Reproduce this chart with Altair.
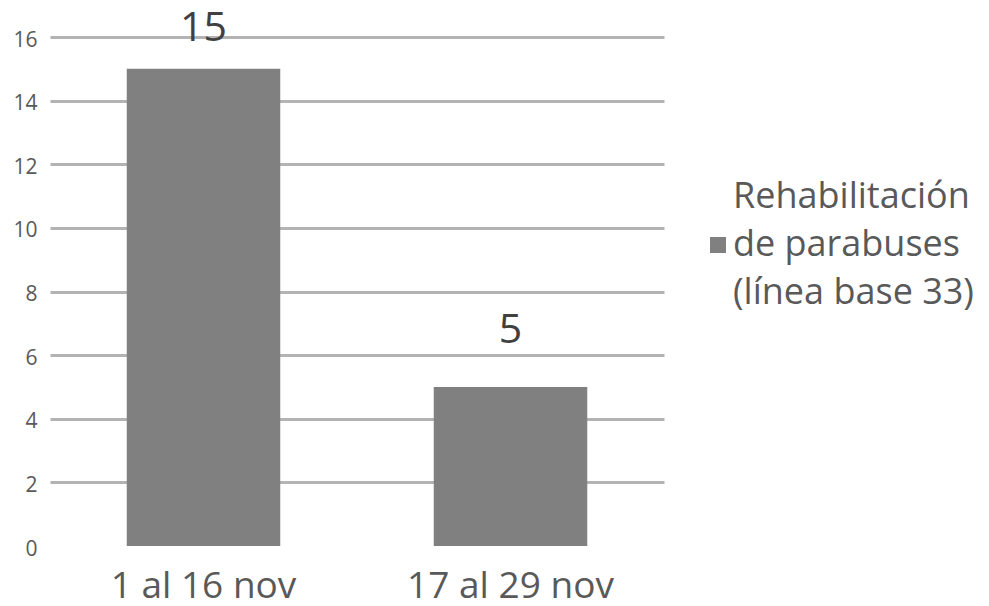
import altair as alt
import pandas as pd

# ---- data ----
categories = ["1 al 16 nov", "17 al 29 nov"]
values = [15, 5]
series_lines = ["Rehabilitación", "de parabuses", "(línea base 33)"]
y_ticks = [0, 2, 4, 6, 8, 10, 12, 14, 16]

series_name = "|".join(series_lines)
df = pd.DataFrame({
    "periodo": categories,
    "valor": values,
    "serie": [series_name] * len(categories),
})

FONT = "Open Sans"
BAR = "#808080"
GRID = "#b3b3b3"
TXT = "#595959"

# legend swatch: a 16px square drawn at the middle (2nd) line of the 3-line label
# (custom symbol path in the -1..1 box, symbol size -> radius 56px)
SWATCH = "M 0.7143 0.7143 L 1 0.7143 L 1 1 L 0.7143 1 Z"

base = alt.Chart(df)

x_enc = alt.X(
    "periodo:N",
    sort=categories,
    title=None,
    scale=alt.Scale(paddingInner=0.5, paddingOuter=0.25),
    axis=alt.Axis(
        labelAngle=0, labelFont=FONT, labelFontSize=37, labelColor=TXT,
        ticks=False, domain=False, grid=False, labelPadding=22, labelLimit=400,
    ),
)

y_enc = alt.Y(
    "valor:Q",
    title=None,
    scale=alt.Scale(domain=[0, 16], nice=False, zero=True),
    axis=alt.Axis(
        values=y_ticks, labelFont=FONT, labelFontSize=21, labelColor=TXT,
        ticks=False, domain=False, labelPadding=13, labelOffset=3,
        grid=True, gridColor=GRID, gridWidth=3,
        gridOpacity={"condition": {"test": "datum.value == 0", "value": 0}, "value": 1},
    ),
)

bars = base.mark_bar().encode(
    x=x_enc,
    y=y_enc,
    color=alt.Color(
        "serie:N",
        scale=alt.Scale(range=[BAR]),
        legend=alt.Legend(
            title=None, orient="none", legendX=564, legendY=104, padding=0,
            symbolType=SWATCH, symbolSize=12544, symbolStrokeWidth=0,
            symbolFillColor=BAR,
            labelFont=FONT, labelFontSize=36, labelColor=TXT, labelLimit=500,
            labelOffset=7, labelExpr="split(datum.label, '|')",
        ),
    ),
)

labels = base.transform_calculate(
    pos="min(datum.valor, 14.5)"
).mark_text(
    font=FONT, fontSize=41, color="#404040", baseline="alphabetic", dy=-44
).encode(
    x=alt.X("periodo:N", sort=categories),
    y=alt.Y("pos:Q"),
    text=alt.Text("valor:Q"),
)

chart = alt.layer(bars, labels).properties(
    width=614,
    height=509,
    autosize=alt.AutoSizeParams(type="none"),
    padding={"left": 42, "top": 29, "right": 317, "bottom": 60},
).configure(
    style={"guide-label": {"lineHeight": 48}}
).configure_view(
    stroke=None
)

chart.save("out.html", embed_options={"renderer": "svg", "actions": False})
